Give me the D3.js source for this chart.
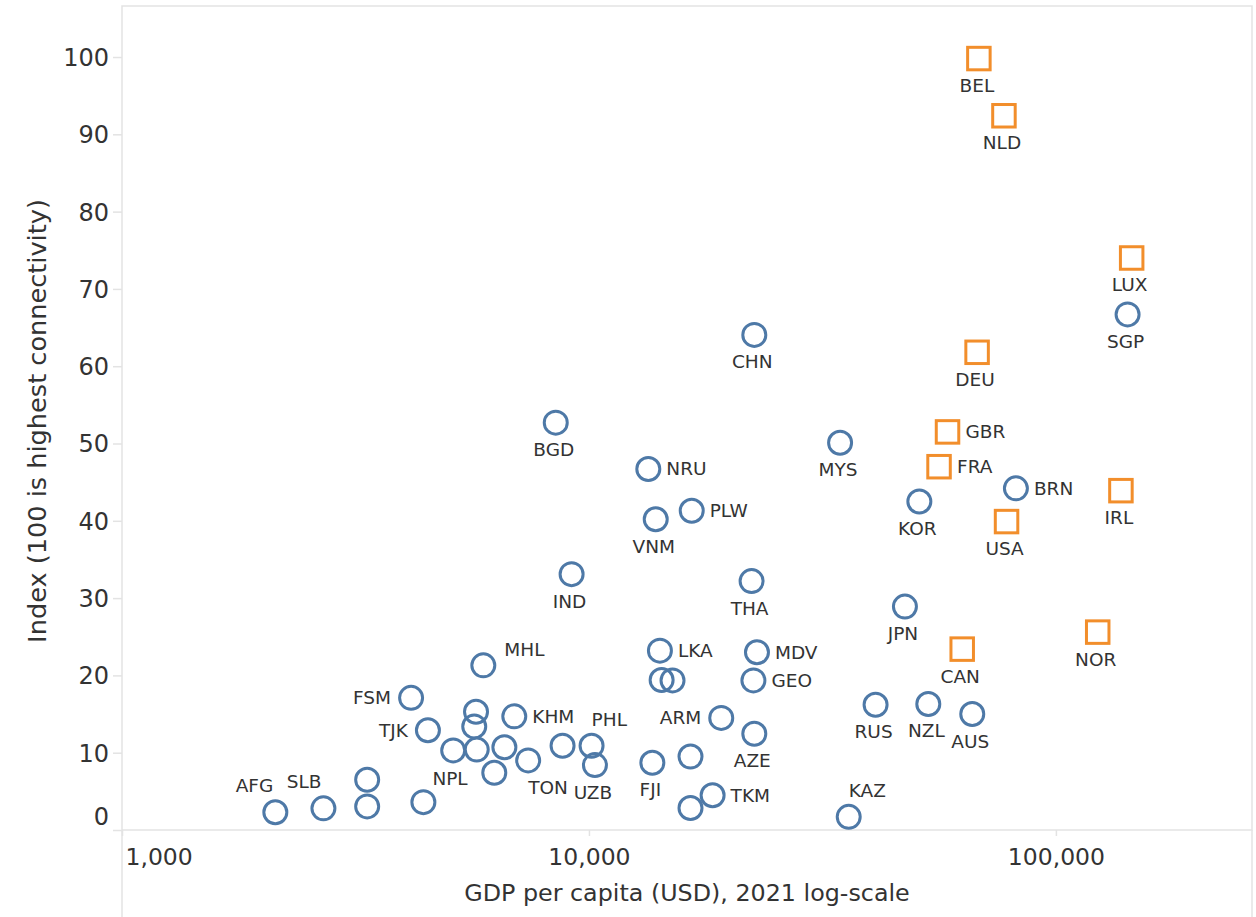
<!DOCTYPE html>
<html>
<head>
<meta charset="utf-8">
<script src="https://cdn.jsdelivr.net/npm/d3@7"></script>
<style>
  html, body { margin: 0; padding: 0; background: #fff; }
  svg { display: block; font-family: "DejaVu Sans", sans-serif; }
</style>
</head>
<body>
<svg id="chart" width="1256" height="917"></svg>
<script>
// ---- Data ----
// GDP per capita (USD, 2021) and connectivity index; "" = unlabeled point
const circleCountries = ["AFG","SLB","","","NPL","FSM","TJK","MHL","","","","","","","KHM","TON","","PHL","UZB","FJI","","","TKM","KAZ","ARM","AZE","LKA","","","GEO","MDV","THA","IND","VNM","PLW","NRU","BGD","CHN","MYS","KOR","BRN","JPN","RUS","NZL","AUS","SGP"];
const circleGdp = [2130,2700,3350,3350,4420,4160,4520,5940,5730,5680,5120,5750,6590,6270,6920,7410,8780,10130,10300,13670,16500,16500,18400,36000,19200,22600,14190,14310,15100,22500,22900,22300,9180,13900,16600,13400,8490,22600,34500,51000,82100,47500,41100,53300,66200,142400];
const circleIndex = [2.3,2.8,3.05,6.5,3.6,17.1,12.9,21.3,15.3,13.4,10.3,10.4,10.7,7.4,14.7,9.0,10.9,10.9,8.4,8.7,9.5,2.85,4.5,1.7,14.5,12.45,23.2,19.4,19.35,19.35,23.0,32.2,33.1,40.2,41.3,46.7,52.7,64.05,50.1,42.5,44.2,28.9,16.2,16.3,15.0,66.7];
const circleLabelPlace = ["tl","tl","","","tr2","l","l","tr3","","","","","","","r","br","","tr","b","b","","","r","tr","l","b","r","","","r","r","b","b","b","r","r","b","b","b","b","r","b","b","b","b","b"];

const squareCountries = ["BEL","NLD","LUX","DEU","GBR","FRA","USA","IRL","CAN","NOR"];
const squareGdp = [68400,77400,145300,67800,58600,56200,78400,137800,63000,122900];
const squareIndex = [99.8,92.4,74.0,61.8,51.5,47.0,39.9,43.9,23.4,25.6];
const squareLabelPlace = ["b","b","b","b","r","r","b","b","b","b"];

const yTicks = [0,10,20,30,40,50,60,70,80,90,100];
const xTicks = [1000,10000,100000];
const xTitle = "GDP per capita (USD), 2021 log-scale";
const yTitle = "Index (100 is highest connectivity)";

// ---- Layout / style ----
const W = 1256, H = 917;
const L = 122, R = 1252, T = 6, B = 830;
const blue = "#4e79a7", orange = "#f28e2b", textCol = "#333", lineCol = "#e3e3e3";
const placements = {
  b:   {anchor: "middle", dx: -2, dy: 27},
  r:   {anchor: "start",  dx: 18, dy: 0},
  l:   {anchor: "end",    dx: -20, dy: 0},
  tl:  {anchor: "end",    dx: -2, dy: -27},
  tr:  {anchor: "start",  dx: 0, dy: -26},
  tr2: {anchor: "start",  dx: 9, dy: -24},
  tr3: {anchor: "start",  dx: 21, dy: -16},
  br:  {anchor: "start",  dx: 0, dy: 27}
};

const svg = d3.select("#chart");
const x = d3.scaleLog().domain([1000, 263000]).range([L, R]);
const y = d3.scaleLinear().domain([0, 106.6]).range([B, T]);

// frame
svg.append("rect").attr("x", L).attr("y", T).attr("width", R - L).attr("height", B - T)
  .attr("fill", "none").attr("stroke", lineCol).attr("stroke-width", 1.5);
svg.append("line").attr("x1", L).attr("x2", L).attr("y1", B).attr("y2", H).attr("stroke", lineCol).attr("stroke-width", 1.5);
svg.append("line").attr("x1", R).attr("x2", R).attr("y1", B).attr("y2", H).attr("stroke", lineCol).attr("stroke-width", 1.5);

// y axis
const yAxis = svg.append("g").attr("transform", `translate(${L},0)`)
  .call(d3.axisLeft(y).tickValues(yTicks).tickSize(9).tickPadding(4).tickFormat(d3.format("d")));
yAxis.select(".domain").remove();
yAxis.selectAll(".tick line").attr("stroke", lineCol).attr("stroke-width", 1.5);
yAxis.selectAll(".tick text").attr("fill", textCol).style("font-size", "24px")
  .attr("font-family", "DejaVu Sans").attr("dy", "0.35em")
  .attr("y", d => d === 0 ? -14 : 0);

// x axis
const xAxis = svg.append("g").attr("transform", `translate(0,${B})`)
  .call(d3.axisBottom(x).tickValues(xTicks).tickSize(6).tickFormat(d3.format(",")));
xAxis.select(".domain").remove();
xAxis.selectAll(".tick line").attr("stroke", lineCol).attr("stroke-width", 1.5);
xAxis.selectAll(".tick text").attr("fill", textCol).style("font-size", "23.5px")
  .attr("font-family", "DejaVu Sans").attr("y", 27).attr("dy", "0.35em")
  .attr("text-anchor", d => d === 1000 ? "start" : "middle")
  .attr("x", d => d === 1000 ? 3 : 0);

// titles
svg.append("text").attr("x", (L + R) / 2).attr("y", 893).attr("dy", "0.35em")
  .attr("text-anchor", "middle").attr("fill", textCol).style("font-size", "23.8px").text(xTitle);
svg.append("text").attr("transform", `translate(37,421) rotate(-90)`).attr("dy", "0.35em")
  .attr("text-anchor", "middle").attr("fill", textCol).style("font-size", "25.6px").text(yTitle);

// data rows
const circles = circleCountries.map((c, i) => ({c, g: circleGdp[i], v: circleIndex[i], p: circleLabelPlace[i]}));
const squares = squareCountries.map((c, i) => ({c, g: squareGdp[i], v: squareIndex[i], p: squareLabelPlace[i]}));

const marks = svg.append("g");
marks.selectAll("circle").data(circles).join("circle")
  .attr("cx", d => x(d.g)).attr("cy", d => y(d.v)).attr("r", 11.5)
  .attr("fill", "none").attr("stroke", blue).attr("stroke-width", 3);
const side = 22.5;
marks.selectAll("rect").data(squares).join("rect")
  .attr("x", d => x(d.g) - side / 2).attr("y", d => y(d.v) - side / 2)
  .attr("width", side).attr("height", side)
  .attr("fill", "none").attr("stroke", orange).attr("stroke-width", 3);

const labels = svg.append("g").style("font-size", "18.5px").attr("fill", textCol);
labels.selectAll("text").data(circles.concat(squares).filter(d => d.c && d.p)).join("text")
  .attr("x", d => x(d.g) + placements[d.p].dx)
  .attr("y", d => y(d.v) + placements[d.p].dy)
  .attr("dy", "0.35em")
  .attr("text-anchor", d => placements[d.p].anchor)
  .text(d => d.c);
</script>
</body>
</html>
